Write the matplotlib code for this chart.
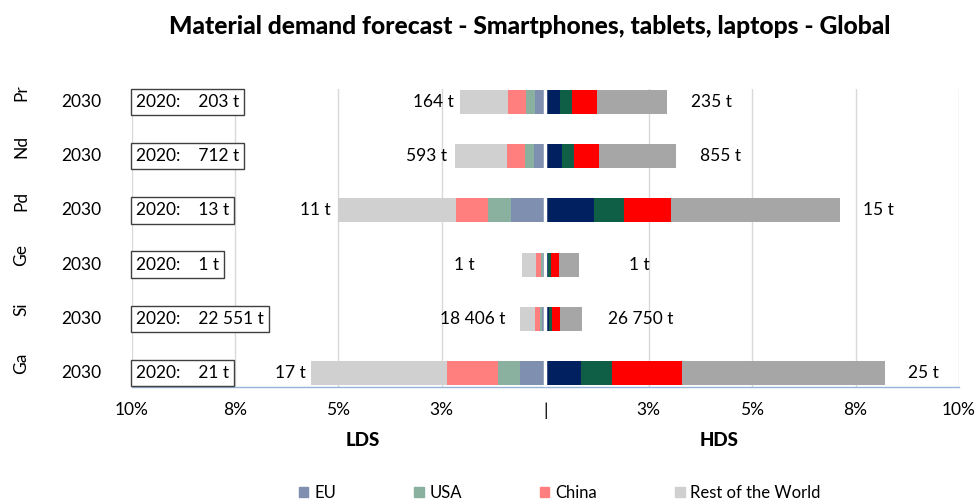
import matplotlib
matplotlib.use("Agg")
import matplotlib.pyplot as plt
from matplotlib.patches import Patch
from matplotlib.transforms import blended_transform_factory
import numpy as np

plt.rcParams['font.family'] = ['Lato', 'DejaVu Sans']

# Rows from top to bottom
elements = ["Pr", "Nd", "Pd", "Ge", "Si", "Ga"]
year = "2030"
demand_2020 = ["203", "712", "13", "1", "22 551", "21"]
lds_total = ["164 t", "593 t", "11 t", "1 t", "18 406 t", "17 t"]
hds_total = ["235 t", "855 t", "15 t", "1 t", "26 750 t", "25 t"]

regions = ["EU", "USA", "China", "Rest of the World"]

# LDS shares (%) per region
lds_eu    = [0.25, 0.27, 0.83, 0.065, 0.08, 0.60]
lds_usa   = [0.22, 0.22, 0.55, 0.04, 0.05, 0.53]
lds_china = [0.42, 0.43, 0.77, 0.13, 0.12, 1.24]
lds_row   = [1.18, 1.26, 2.85, 0.33, 0.355, 3.28]

# HDS shares (%) per region
hds_eu    = [0.36, 0.40, 1.17, 0.07, 0.08, 0.87]
hds_usa   = [0.28, 0.30, 0.74, 0.07, 0.08, 0.74]
hds_china = [0.60, 0.60, 1.13, 0.19, 0.20, 1.70]
hds_row   = [1.71, 1.85, 4.09, 0.49, 0.52, 4.90]

ticks = [-10, -7.5, -5, -2.5, 0, 2.5, 5, 7.5, 10]
tick_labels = ["10%", "8%", "5%", "3%", "|", "3%", "5%", "8%", "10%"]

lds_colors = ["#7F8FAF", "#8AB0A0", "#FF7F7F", "#D0D0D0"]
hds_colors = ["#002060", "#0F5F46", "#FF0000", "#A6A6A6"]

# label gaps in pixels (distance between bar end and total label)
lds_gap = [6, 8, 8, 47, 15, 6]
hds_gap = [24, 24, 23, 50, 26, 23]

W, H = 979, 500
fig = plt.figure(figsize=(W / 100, H / 100), dpi=100)
ax = fig.add_axes([131.5 / W, (H - 387) / H, (959 - 131.5) / W, (387 - 89) / H])

n = len(elements)
y = np.arange(n)[::-1]
bh = 0.443

lds = np.array([lds_eu, lds_usa, lds_china, lds_row])
hds = np.array([hds_eu, hds_usa, hds_china, hds_row])

left = np.zeros(n)
for vals, c in zip(lds, lds_colors):
    ax.barh(y, -vals, left=-left, height=bh, color=c, zorder=2)
    left += vals
lds_sum = left.copy()

left = np.zeros(n)
for vals, c in zip(hds, hds_colors):
    ax.barh(y, vals, left=left, height=bh, color=c, zorder=2)
    left += vals
hds_sum = left.copy()

# white separator between the two halves
ax.axvline(0, color="white", lw=2.5, zorder=3)

for t in ticks:
    if t != 0:
        ax.axvline(t, color="#D9D9D9", lw=1, zorder=1)

for i in range(n):
    ax.annotate(lds_total[i], (-lds_sum[i], y[i]), xytext=(-lds_gap[i] * 0.72, 0),
                textcoords="offset points", ha="right", va="center", fontsize=12.5)
    ax.annotate(hds_total[i], (hds_sum[i], y[i]), xytext=(hds_gap[i] * 0.72, 0),
                textcoords="offset points", ha="left", va="center", fontsize=12.5)

ax.set_xlim(-10, 10)
ax.set_ylim(-14 / 54.2, n - 1 + 13 / 54.2)
ax.set_xticks(ticks)
ax.set_xticklabels(tick_labels, fontsize=12.5)
ax.tick_params(axis="x", length=0, pad=11)
ax.set_yticks([])
for s in ["top", "left", "right"]:
    ax.spines[s].set_visible(False)
ax.spines["bottom"].set_color("#95B3D7")
ax.spines["bottom"].set_linewidth(1)

# row labels on the left
tr = blended_transform_factory(fig.transFigure, ax.transData)
for i in range(n):
    ax.annotate(elements[i], (21 / W, y[i]), xycoords=tr, xytext=(0, 7),
                textcoords="offset points", rotation=90, ha="center", va="center",
                fontsize=12.5, annotation_clip=False)
    ax.text(81.5 / W, y[i], year, transform=tr, ha="center", va="center", fontsize=12.5)
    ax.text(136 / W, y[i], "2020:    " + demand_2020[i] + " t", transform=tr,
            ha="left", va="center", fontsize=12.5,
            bbox=dict(boxstyle="square,pad=0.3", fc="white", ec="#404040", lw=1))

fig.text(363 / W, 1 - 440 / H, "LDS", ha="center", va="center", fontsize=13.5, fontweight="black")
fig.text(719 / W, 1 - 440 / H, "HDS", ha="center", va="center", fontsize=13.5, fontweight="black")

fig.text(530 / W, 1 - 27 / H, "Material demand forecast - Smartphones, tablets, laptops - Global",
         ha="center", va="center", fontsize=17.7, fontweight="black")

handles = [Patch(color=c) for c in lds_colors]
fig.legend(handles, regions, loc="center", bbox_to_anchor=(560 / W, 1 - 493 / H), ncol=4,
           frameon=False, fontsize=12, handlelength=0.55, handleheight=0.55,
           handletextpad=0.35, columnspacing=4.7)

fig.savefig("out.png", dpi=100)
